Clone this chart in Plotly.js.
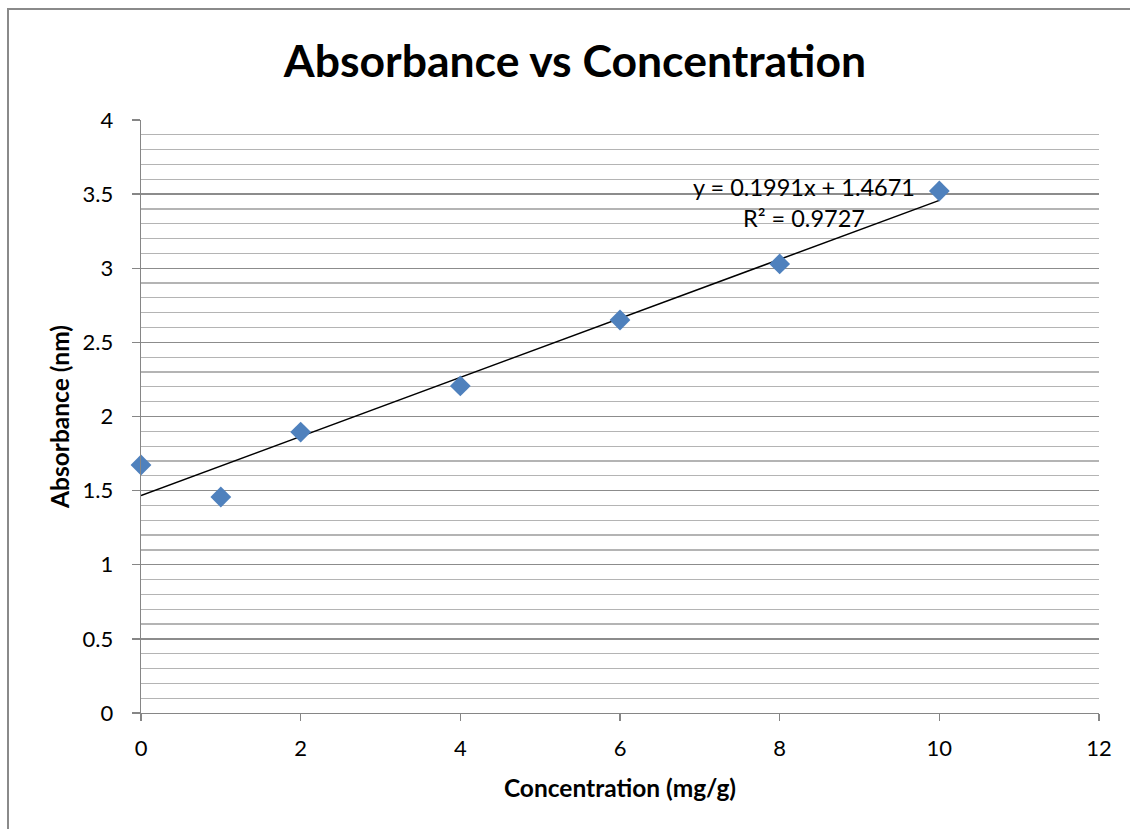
<!DOCTYPE html>
<html>
<head>
<meta charset="utf-8">
<script src="https://cdn.plot.ly/plotly-3.0.1.min.js"></script>
<style>
  html, body { margin: 0; padding: 0; overflow: hidden; background: #fff; }
  #chart { width: 1130px; height: 829px; }
  #frame { position: absolute; left: 7px; top: 8px; width: 1300px; height: 1000px;
           border-top: 2px solid #8a8a8a; border-left: 2px solid #8a8a8a; pointer-events: none; }
</style>
</head>
<body>
<div id="chart"></div>
<div id="frame"></div>
<script>
// Data
const concentration = [0, 1, 2, 4, 6, 8, 10];
const absorbance = [1.673, 1.457, 1.895, 2.206, 2.651, 3.029, 3.521];

// Linear trendline shown on the chart
const trendSlope = 0.1991;
const trendIntercept = 1.4671;
const trendR2 = 0.9727;

const xMin = Math.min(...concentration);
const xMax = Math.max(...concentration);
const trendX = [xMin, xMax];
const trendY = trendX.map(x => trendSlope * x + trendIntercept);

const font = "Lato, 'Open Sans', sans-serif";

const traces = [
  {
    x: trendX, y: trendY, type: 'scatter', mode: 'lines',
    line: { color: '#000000', width: 1.5 }, hoverinfo: 'skip', showlegend: false
  },
  {
    x: concentration, y: absorbance, type: 'scatter', mode: 'markers',
    marker: { symbol: 'diamond', size: 16, color: '#4f81bd' },
    cliponaxis: false, showlegend: false
  }
];

const layout = {
  width: 1130, height: 829,
  margin: { l: 141, r: 31, t: 120, b: 116 },
  paper_bgcolor: '#ffffff', plot_bgcolor: '#ffffff',
  font: { family: font, color: '#000000' },
  title: {
    text: '<b>Absorbance vs Concentration</b>',
    font: { family: font, size: 44.5, color: '#000000' },
    x: 575 / 1130, xref: 'container', xanchor: 'center',
    y: 1 - 61 / 829, yref: 'container', yanchor: 'middle'
  },
  xaxis: {
    range: [0, 12], dtick: 2, tick0: 0,
    showgrid: false, zeroline: false,
    showline: true, linecolor: '#868686', linewidth: 1.3,
    ticks: 'outside', ticklen: 7, tickcolor: '#868686', tickwidth: 1.3,
    ticklabelstandoff: 8,
    tickfont: { family: font, size: 22, color: '#000000' },
    title: { text: '<b>Concentration (mg/g)</b>', font: { family: font, size: 24.5, color: '#000000' }, standoff: 20 },
    fixedrange: true
  },
  yaxis: {
    range: [0, 4], dtick: 0.5, tick0: 0,
    showgrid: true, gridcolor: '#8c8c8c', gridwidth: 1.3,
    minor: { dtick: 0.1, showgrid: true, gridcolor: '#b4b4b4', gridwidth: 1.2, ticks: '' },
    zeroline: false,
    showline: true, linecolor: '#868686', linewidth: 1.3,
    ticks: 'outside', ticklen: 8, tickcolor: '#868686', tickwidth: 1.3,
    ticklabelstandoff: 14,
    tickfont: { family: font, size: 22, color: '#000000' },
    title: { text: '<b>Absorbance (nm)</b>', font: { family: font, size: 24.5, color: '#000000' }, standoff: 6 },
    fixedrange: true
  },
  annotations: [
    {
      x: 8.3, y: 3.548, xref: 'x', yref: 'y', showarrow: false,
      text: 'y = ' + trendSlope.toFixed(4) + 'x + ' + trendIntercept.toFixed(4),
      font: { family: font, size: 23.5, color: '#000000' }, xanchor: 'center', yanchor: 'middle'
    },
    {
      x: 8.3, y: 3.339, xref: 'x', yref: 'y', showarrow: false,
      text: 'R² = ' + trendR2.toFixed(4),
      font: { family: font, size: 23.5, color: '#000000' }, xanchor: 'center', yanchor: 'middle'
    }
  ]
};

Plotly.newPlot('chart', traces, layout, { displayModeBar: false, staticPlot: true });
</script>
</body>
</html>
